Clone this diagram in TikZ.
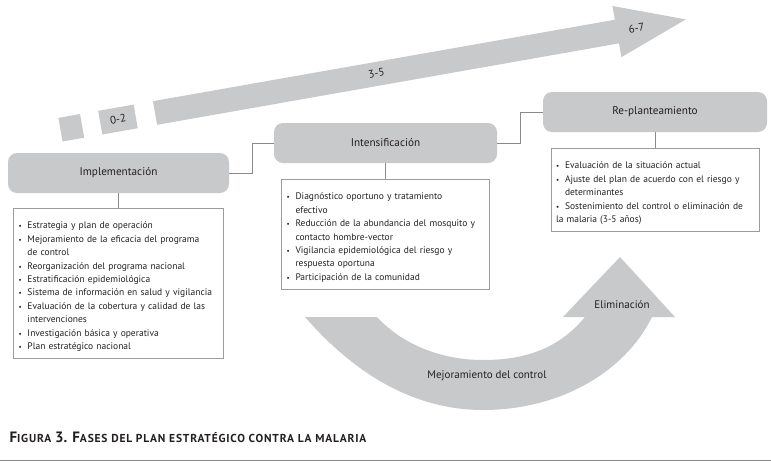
\documentclass[tikz,border=0pt]{standalone}
\usepackage{fontspec}
\setmainfont{PT Sans}
\usepackage{xcolor}
\usepackage{tikz}
\usetikzlibrary{calc, positioning}

\definecolor{grisfase}{HTML}{C8C9CB}
\definecolor{grislinea}{HTML}{8A8A8A}
\definecolor{grisborde}{HTML}{9C9C9C}
\definecolor{textofig}{HTML}{231F20}

% Viñeta con sangría francesa
\newcommand{\punto}[1]{\par\hyphenpenalty=10000\hangindent=9pt\hangafter=1\noindent\makebox[9pt][l]{\scriptsize\textbullet}#1}
\newcommand{\sigue}{\hfil\break}
% Versalitas del pie de figura
\newcommand{\pequena}[1]{{\fontsize{11.5}{13}\selectfont\addfontfeature{LetterSpace=7}#1}}

\begin{document}
\begin{tikzpicture}[x=1pt, y=-1pt, text=textofig,
    fase/.style={fill=grisfase, rounded corners=9pt, minimum width=#1, minimum height=40pt, font=\fontsize{11.2}{13}\selectfont},
    lista/.style={draw=grisborde, line width=0.6pt, text width=#1, inner xsep=5pt, inner ysep=7pt, align=left, font=\fontsize{9.5}{13.4}\selectfont},
    enlace/.style={draw=grislinea, line width=0.6pt},
    etiqueta/.style={font=\fontsize{11}{13}\selectfont}]
    \useasboundingbox (0,0) rectangle (771,464);

    % Flecha de los años (bloques + cuerpo + punta)
    \begin{scope}[shift={(155,113)}, rotate=10]
        \fill[grisfase] (-96,-12) rectangle (-74,12);
        \fill[grisfase] (-55.6,-12) rectangle (-19.6,12);
        \fill[grisfase] (0,-12) -- (469,-12) -- (469,-26) -- (539,0) -- (469,26) -- (469,12) -- (0,12) -- cycle;
        \node[etiqueta, transform shape] (anio02) at (-37.6,0) {0-2};
        \node[etiqueta, transform shape] (anio35) at (225,-1) {3-5};
        \node[etiqueta, transform shape] (anio67) at (489,0) {6-7};
    \end{scope}

    % Flecha curva del control
    \fill[grisfase] (305,317) .. controls (360,380) and (420,410) .. (483,410)
        .. controls (560,410) and (625,372) .. (652,317) -- (675,317) -- (620,257) -- (563,317) -- (585,317)
        .. controls (560,347) and (528,360) .. (483,360) .. controls (445,360) and (405,347) .. (377,317) -- cycle;
    \node[etiqueta] (elim) at (622,305) {Eliminación};
    \node[etiqueta] (mejora) at (487,376) {Mejoramiento del control};

    % Fases
    \node[fase=221pt] (impl) at (118.5,173) {Implementación};
    \node[fase=223pt] (intens) at (385.5,143) {Intensificación};
    \node[fase=224pt] (replan) at (655,112) {Re-planteamiento};

    % Actividades de cada fase
    \node[lista=200pt, below=15pt of impl] (implLista) {%
        \punto{Estrategia y plan de operación}
        \punto{Mejoramiento de la eficacia del programa\sigue de control}
        \punto{Reorganización del programa nacional}
        \punto{Estratificación epidemiológica}
        \punto{Sistema de información en salud y vigilancia}
        \punto{Evaluación de la cobertura y calidad de las\sigue intervenciones}
        \punto{Investigación básica y operativa}
        \punto{Plan estratégico nacional}};
    \node[lista=198pt, below=16pt of intens] (intensLista) {%
        \punto{Diagnóstico oportuno y tratamiento\sigue efectivo}
        \punto{Reducción de la abundancia del mosquito y\sigue contacto hombre-vector}
        \punto{Vigilancia epidemiológica del riesgo y\sigue respuesta oportuna}
        \punto{Participación de la comunidad}};
    \node[lista=198pt, below=16pt of replan] (replanLista) {%
        \punto{Evaluación de la situación actual}
        \punto{Ajuste del plan de acuerdo con el riesgo y\sigue determinantes}
        \punto{Sostenimiento del control o eliminación de\sigue la malaria (3-5 años)}};

    % Conectores
    \draw[enlace] (impl.south) -- (implLista.north);
    \draw[enlace] (intens.south) -- (intensLista.north);
    \draw[enlace] (replan.south) -- (replanLista.north);
    \draw[enlace] (impl.east) -- ++(23,0) |- (intens.west);
    \draw[enlace] (intens.east) -- ++(23,0) |- (replan.west);

    % Pie de figura
    \node[anchor=west, font=\bfseries\fontsize{15}{17}\selectfont] (pie) at (6,437)
        {F\pequena{IGURA} 3. F\pequena{ASES DEL PLAN ESTRATÉGICO CONTRA LA MALARIA}};
    \draw[grislinea, line width=0.8pt] (0,460) -- (771,460);
\end{tikzpicture}
\end{document}
